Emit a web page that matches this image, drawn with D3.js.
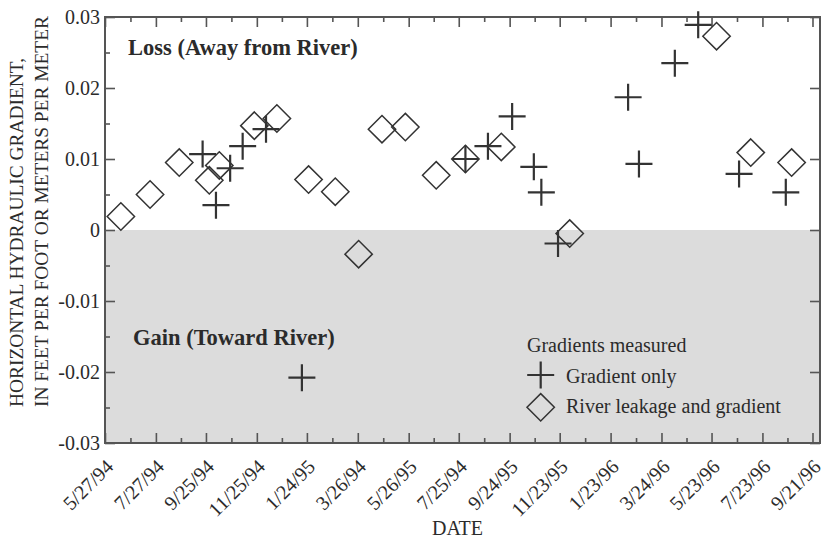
<!DOCTYPE html>
<html>
<head>
<meta charset="utf-8">
<script src="https://cdn.jsdelivr.net/npm/d3@7"></script>
<style>
  html, body { margin: 0; padding: 0; background: #fff; }
  svg text { font-family: "Liberation Serif", "Times New Roman", Times, serif; fill: #2b2b2b; }
</style>
</head>
<body>
<svg id="chart" width="830" height="542"></svg>
<script>
// Horizontal hydraulic gradient measurements, 1994-1996
const tickDates  = ["1994-05-27","1994-07-27","1994-09-25","1994-11-25","1995-01-24","1995-03-26","1995-05-26","1995-07-25","1995-09-24","1995-11-23","1996-01-23","1996-03-24","1996-05-23","1996-07-23","1996-09-21"];
const tickLabels = ["5/27/94","7/27/94","9/25/94","11/25/94","1/24/95","3/26/94","5/26/95","7/25/94","9/24/95","11/23/95","1/23/96","3/24/96","5/23/96","7/23/96","9/21/96"];
const yTicks      = [0.03, 0.02, 0.01, 0, -0.01, -0.02, -0.03];
const yTickLabels = ["0.03", "0.02", "0.01", "0", "-0.01", "-0.02", "-0.03"];

// Gradient only
const gradientDates  = ["1994-09-21","1994-10-07","1994-10-24","1994-11-08","1994-12-06","1995-01-18","1995-08-02","1995-08-29","1995-09-27","1995-10-23","1995-11-01","1995-11-21","1996-02-13","1996-02-26","1996-04-09","1996-05-07","1996-06-25","1996-08-20"];
const gradientValues = [0.0107, 0.0035, 0.0087, 0.0118, 0.0142, -0.0208, 0.0100, 0.0118, 0.0160, 0.0089, 0.0053, -0.0019, 0.0187, 0.0093, 0.0235, 0.0289, 0.0079, 0.0053];

// River leakage and gradient
const leakageDates  = ["1994-06-15","1994-07-20","1994-08-24","1994-09-29","1994-10-11","1994-11-22","1994-12-19","1995-01-26","1995-02-27","1995-03-27","1995-04-24","1995-05-22","1995-06-28","1995-08-02","1995-09-14","1995-12-05","1996-05-29","1996-07-09","1996-08-27"];
const leakageValues = [0.0019, 0.0050, 0.0095, 0.0070, 0.0091, 0.0147, 0.0157, 0.0071, 0.0054, -0.0034, 0.0142, 0.0145, 0.0077, 0.0100, 0.0117, -0.0005, 0.0273, 0.0109, 0.0095];

const parse = d3.timeParse("%Y-%m-%d");
const svg = d3.select("#chart");

const plotLeft = 105, plotRight = 820, plotTop = 17, plotBottom = 443;
const ink = "#333";
const frameInk = "#555";
const serif = '"Liberation Serif", "Times New Roman", serif';

const x = d3.scaleTime()
  .domain([parse("1994-05-27"), parse("1996-09-30")])
  .range([plotLeft, plotRight]);
const y = d3.scaleLinear().domain([-0.03, 0.03]).range([plotBottom, plotTop]);

const majorDates = tickDates.map(parse);
const minorDates = majorDates.slice(0, -1).map((d, i) => new Date((+d + +majorDates[i + 1]) / 2));
const minorY = d3.range(6).map(i => yTicks[i] - 0.005);

// Negative (gain) half of the plot
svg.append("rect")
  .attr("x", plotLeft).attr("y", y(0))
  .attr("width", plotRight - plotLeft).attr("height", y(-0.03) - y(0))
  .attr("fill", "#dcdcdc");

function styleAxis(g) {
  g.select(".domain").remove();
  g.selectAll(".tick line").attr("stroke", frameInk).attr("stroke-width", 1.6);
}

// Left axis: labelled major ticks and minor ticks, drawn inward
svg.append("g").attr("transform", `translate(${plotLeft},0)`)
  .call(d3.axisLeft(y).tickValues(yTicks).tickSize(-10).tickPadding(5)
    .tickFormat((d, i) => yTickLabels[i]))
  .call(styleAxis)
  .call(g => g.selectAll("text").attr("font-size", 20).attr("fill", "#2b2b2b")
    .attr("font-family", serif));
svg.append("g").attr("transform", `translate(${plotLeft},0)`)
  .call(d3.axisLeft(y).tickValues(minorY).tickSize(-5).tickFormat(""))
  .call(styleAxis);

// Right axis: major ticks only
svg.append("g").attr("transform", `translate(${plotRight},0)`)
  .call(d3.axisRight(y).tickValues(yTicks).tickSize(-10).tickFormat(""))
  .call(styleAxis);

// Bottom axis with rotated date labels
const bx = svg.append("g").attr("transform", `translate(0,${plotBottom})`)
  .call(d3.axisBottom(x).tickValues(majorDates).tickSize(-10)
    .tickFormat((d, i) => tickLabels[i]))
  .call(styleAxis);
bx.selectAll("text")
  .attr("font-size", 20).attr("fill", "#2b2b2b")
  .attr("font-family", serif)
  .attr("text-anchor", "end")
  .attr("dy", null).attr("y", null)
  .attr("transform", "translate(9,25) rotate(-45)");
svg.append("g").attr("transform", `translate(0,${plotBottom})`)
  .call(d3.axisBottom(x).tickValues(minorDates).tickSize(-5).tickFormat(""))
  .call(styleAxis);

// Top axis mirrors the bottom ticks
svg.append("g").attr("transform", `translate(0,${plotTop})`)
  .call(d3.axisTop(x).tickValues(majorDates).tickSize(-10).tickFormat(""))
  .call(styleAxis);
svg.append("g").attr("transform", `translate(0,${plotTop})`)
  .call(d3.axisTop(x).tickValues(minorDates).tickSize(-5).tickFormat(""))
  .call(styleAxis);

// Frame
svg.append("rect")
  .attr("x", plotLeft).attr("y", plotTop)
  .attr("width", plotRight - plotLeft).attr("height", plotBottom - plotTop)
  .attr("fill", "none").attr("stroke", frameInk).attr("stroke-width", 2);

// Markers
const arm = 13.5, half = 13.7;
function drawCross(g, cx, cy) {
  g.append("path")
    .attr("d", `M${cx - arm},${cy}H${cx + arm}M${cx},${cy - arm}V${cy + arm}`)
    .attr("stroke", ink).attr("stroke-width", 2.2).attr("fill", "none");
}
function drawDiamond(g, cx, cy) {
  g.append("path")
    .attr("d", `M${cx},${cy - half}L${cx + half},${cy}L${cx},${cy + half}L${cx - half},${cy}Z`)
    .attr("stroke", ink).attr("stroke-width", 1.5).attr("fill", "none");
}

const marks = svg.append("g");
leakageDates.forEach((d, i) => drawDiamond(marks, x(parse(d)), y(leakageValues[i])));
gradientDates.forEach((d, i) => drawCross(marks, x(parse(d)), y(gradientValues[i])));

// Region annotations
svg.append("text").attr("x", 128).attr("y", 55)
  .attr("font-size", 22.5).attr("font-weight", "bold").attr("fill", "#1e1e1e")
  .text("Loss (Away from River)");
svg.append("text").attr("x", 133).attr("y", 345)
  .attr("font-size", 22.5).attr("font-weight", "bold").attr("fill", "#1e1e1e")
  .text("Gain (Toward River)");

// Legend
const lg = svg.append("g");
lg.append("text").attr("x", 527).attr("y", 352).attr("font-size", 20).text("Gradients measured");
drawCross(lg, 540.7, 375);
lg.append("text").attr("x", 566).attr("y", 383).attr("font-size", 20).text("Gradient only");
drawDiamond(lg, 540.7, 407.3);
lg.append("text").attr("x", 566).attr("y", 413).attr("font-size", 20).text("River leakage and gradient");

// Axis titles
svg.append("text").attr("x", (plotLeft + plotRight) / 2 - 5).attr("y", 535)
  .attr("text-anchor", "middle").attr("font-size", 20).text("DATE");
const yt = svg.append("text")
  .attr("transform", "translate(0,407) rotate(-90)")
  .attr("font-size", 19.4);
yt.append("tspan").attr("x", 0).attr("y", 23).text("HORIZONTAL HYDRAULIC GRADIENT,");
yt.append("tspan").attr("x", 0).attr("y", 48).text("IN FEET PER FOOT OR METERS PER METER");
</script>
</body>
</html>
